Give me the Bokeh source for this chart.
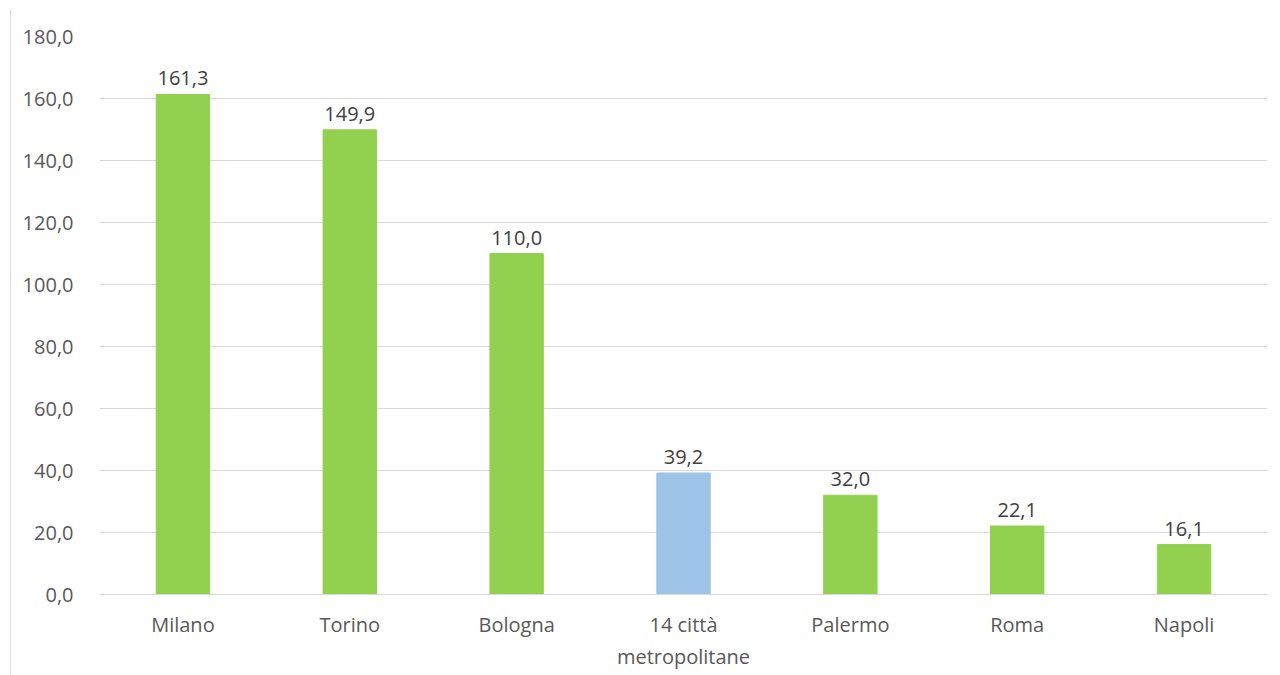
from bokeh.plotting import figure
from bokeh.models import ColumnDataSource, LabelSet, FixedTicker, CustomJSTickFormatter, Range1d
from bokeh.core.properties import value
from bokeh.embed import file_html
from bokeh.resources import INLINE

categories = ["Milano", "Torino", "Bologna", "14 città\nmetropolitane", "Palermo", "Roma", "Napoli"]
values = [161.3, 149.9, 110.0, 39.2, 32.0, 22.1, 16.1]
colors = ["#92D050", "#92D050", "#92D050", "#9DC3E6", "#92D050", "#92D050", "#92D050"]
y_ticks = [0, 20, 40, 60, 80, 100, 120, 140, 160, 180]

labels = [f"{v:.1f}".replace(".", ",") for v in values]
src = ColumnDataSource(dict(cat=categories, val=values, col=colors, lab=labels))

FONT = "Open Sans"

p = figure(x_range=categories, width=1269, height=665, output_backend="svg",
           toolbar_location=None, tools="",
           min_border_left=88, min_border_right=13, min_border_top=26, min_border_bottom=81,
           styles={"margin-left": "10px", "margin-top": "10px", "border-left": "1px solid #d9d9d9"})
p.y_range = Range1d(0, 180)
p.vbar(x="cat", top="val", width=0.32, color="col", source=src)

p.add_layout(LabelSet(x="cat", y="val", text="lab", source=src, text_align="center",
                      text_baseline="bottom", y_offset=9, text_font=value(FONT),
                      text_font_size="20px", text_color="#404040"))

p.outline_line_color = None
p.xgrid.grid_line_color = None
p.ygrid.grid_line_color = "#d9d9d9"
p.ygrid.grid_line_width = 1

p.yaxis.ticker = FixedTicker(ticks=y_ticks)
p.yaxis.formatter = CustomJSTickFormatter(code="return tick.toFixed(1).replace('.', ',');")
p.yaxis.axis_line_color = None
p.yaxis.major_tick_line_color = None
p.yaxis.minor_tick_line_color = None
p.yaxis.major_label_standoff = 20
p.yaxis.major_label_text_font = FONT
p.yaxis.major_label_text_font_size = "20px"
p.yaxis.major_label_text_color = "#595959"

p.xaxis.axis_line_color = "#d9d9d9"
p.xaxis.major_tick_line_color = None
p.xaxis.minor_tick_line_color = None
p.xaxis.major_label_standoff = 10
p.xaxis.major_label_text_font = FONT
p.xaxis.major_label_text_font_size = "20px"
p.xaxis.major_label_text_color = "#595959"
p.x_range.range_padding = 0

open("out.html", "w").write(file_html(p, INLINE))
